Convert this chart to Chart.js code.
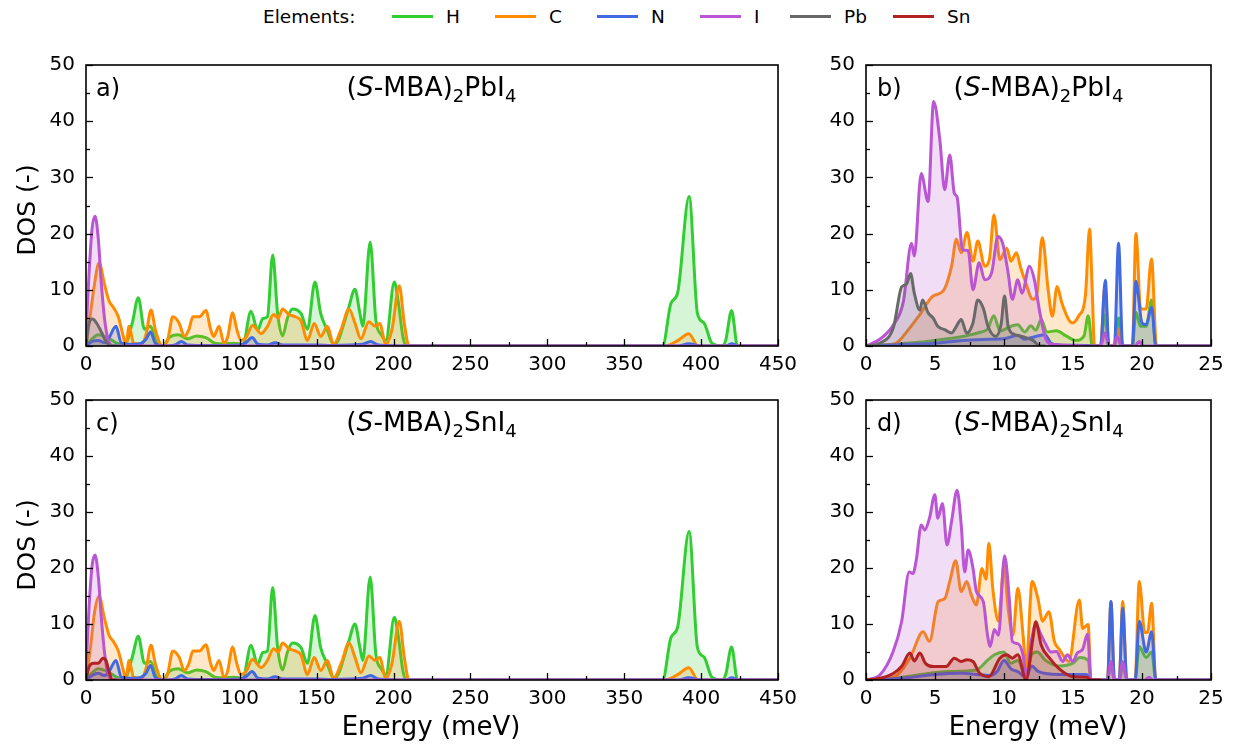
<!DOCTYPE html>
<html>
<head>
<meta charset="utf-8">
<script src="https://cdn.jsdelivr.net/npm/chart.js@4"></script>
<style>
  body { margin: 0; background: #fff; font-family: 'DejaVu Sans', sans-serif; }
  #wrap { position: relative; width: 1235px; height: 749px; overflow: hidden; }
  canvas { position: absolute; }
  .txt { position: absolute; color: #000; white-space: nowrap; line-height: 1; }
  .ttl { font-size: 26.5px; text-align: center; }
  .ttl sub { font-size: 18px; vertical-align: -6px; line-height: 0; }
  .lab { font-size: 24px; }
  .ylab { font-size: 25px; transform: translate(-50%, -50%) rotate(-90deg); }
  .xlab { font-size: 26px; transform: translateX(-50%); }
  .leg { font-size: 18.5px; }
  .sw { position: absolute; height: 3px; width: 41px; }
</style>
</head>
<body>
<div id="wrap">
  <canvas id="pa" width="767" height="331" style="left:36px;top:50px"></canvas>
  <canvas id="pb" width="420" height="331" style="left:816px;top:50px"></canvas>
  <canvas id="pc" width="767" height="330" style="left:36px;top:385px"></canvas>
  <canvas id="pd" width="420" height="330" style="left:816px;top:385px"></canvas>

  <div class="txt leg" style="left:263px;top:8px">Elements:</div>
  <div class="sw" style="left:392px;top:15px;background:#32CD32"></div><div class="txt leg" style="left:446px;top:8px">H</div>
  <div class="sw" style="left:495px;top:15px;background:#FF8C00"></div><div class="txt leg" style="left:549px;top:8px">C</div>
  <div class="sw" style="left:597px;top:15px;background:#4169E1"></div><div class="txt leg" style="left:651px;top:8px">N</div>
  <div class="sw" style="left:700px;top:15px;background:#BA55D3"></div><div class="txt leg" style="left:754px;top:8px">I</div>
  <div class="sw" style="left:790px;top:15px;background:#696969"></div><div class="txt leg" style="left:844px;top:8px">Pb</div>
  <div class="sw" style="left:893px;top:15px;background:#B22222"></div><div class="txt leg" style="left:947px;top:8px">Sn</div>

  <div class="txt lab" style="left:96px;top:76px">a)</div>
  <div class="txt lab" style="left:877px;top:76px">b)</div>
  <div class="txt lab" style="left:96px;top:411px">c)</div>
  <div class="txt lab" style="left:877px;top:411px">d)</div>

  <div class="txt ttl" style="left:86px;width:691px;top:74px">(<i>S</i>-MBA)<sub>2</sub>PbI<sub>4</sub></div>
  <div class="txt ttl" style="left:866px;width:345px;top:74px">(<i>S</i>-MBA)<sub>2</sub>PbI<sub>4</sub></div>
  <div class="txt ttl" style="left:86px;width:691px;top:409px">(<i>S</i>-MBA)<sub>2</sub>SnI<sub>4</sub></div>
  <div class="txt ttl" style="left:866px;width:345px;top:409px">(<i>S</i>-MBA)<sub>2</sub>SnI<sub>4</sub></div>

  <div class="txt ylab" style="left:26px;top:210px">DOS (-)</div>
  <div class="txt ylab" style="left:26px;top:545px">DOS (-)</div>
  <div class="txt xlab" style="left:431px;top:713px">Energy (meV)</div>
  <div class="txt xlab" style="left:1038px;top:713px">Energy (meV)</div>
</div>

<script>
// element colours
const colH = '#32CD32', colC = '#FF8C00', colN = '#4169E1', colI = '#BA55D3', colPb = '#696969', colSn = '#B22222';

// y axis ticks (DOS)
const yTicks = [0, 10, 20, 30, 40, 50];

// ---- a) (S-MBA)2PbI4, 0-450 meV ----
const aH = [[0,0],[3,1],[8,2],[14,1.5],[20,0.5],[25,0.2],[30,4],[34,8.6],[38,3],[42,3.5],[46,0.5],[50,0],[54,1.5],[60,2],[66,1.3],[72,1.8],[78,1.5],[84,0.5],[90,0.4],[96,0.5],[102,0.3],[107.3,6.2],[111.6,2.8],[115,4.9],[118,5.2],[121.4,16.2],[124.6,5.8],[127.8,1.8],[131,5],[134.3,6.6],[139.8,5.8],[144,3],[148.9,11.4],[152.6,5.8],[157,2.8],[161,0.3],[164,1],[167.7,4],[171,7],[174.9,10.1],[178,6],[180,3.5],[184.8,18.5],[188.5,4.6],[192,2],[195,1],[200.5,11.4],[203,8],[206,1.8],[208,0],[375,0],[380.4,7.6],[384.7,9.4],[392.2,26.6],[397.6,5.8],[401.9,4.1],[407,0.5],[413.5,0],[416,1],[419.8,6.3],[423.7,0],[450,0]];
const aC = [[0,0],[3,6],[5.5,11],[8.5,14.8],[12,11],[15,8],[17.5,7],[21,5.2],[24,2],[26,0.2],[28,3.5],[31,0.5],[36,0.3],[39,2],[42.3,6.4],[45,3],[48,0.5],[50,0],[53,1],[56.5,5.2],[60.5,4.1],[64,1.7],[67,3],[69.5,5.2],[73.8,5.2],[78,6.3],[81,3],[83,1.7],[86.5,3.5],[89.7,0.5],[92,1.5],[95.4,5.9],[98,3],[100.8,1],[104,1.5],[108.4,3.7],[111,3],[113.8,2.2],[118,3.5],[122,5.6],[125,5],[127.8,6.6],[132,5.6],[136,5.2],[139.8,4.5],[144,1],[148.4,4],[152.7,1.7],[157,3.5],[161,0.3],[166,3],[171,6.6],[175,4],[178.7,1.3],[184,4.3],[188,3.5],[191,4],[195,0.3],[199,3],[203.7,10.7],[207,4],[210,0],[376,0],[385,1],[392,2.2],[398,0],[450,0]];
const aN = [[0,0],[4,0.8],[8,1],[12,0.6],[15,1.5],[19.5,3.5],[23,0.5],[28,0.3],[35,0.4],[39,1.2],[42,2.5],[45,0.5],[50,0],[58,0.2],[62,0.8],[66,0.2],[80,0.1],[100,0.2],[104,0.6],[108,1.5],[112,0.3],[118,0.2],[123,0.6],[128,0.2],[150,0.2],[160,0.1],[180,0.3],[185,0.8],[190,0.2],[210,0],[385,0],[392,0.4],[400,0],[416,0],[420,0.4],[424,0],[450,0]];
const aI = [[0,2],[2,13],[4,21],[5.9,23.1],[8,19],[10,11],[12,5],[14,1.5],[16,0.2],[18,0],[450,0]];
const aPb = [[0,0],[1.5,3.5],[4.3,4.8],[7,4],[10,2.5],[13,0.8],[16,0],[20,0]];

// ---- c) (S-MBA)2SnI4, 0-450 meV ----
const cH = [[0,0],[3,1],[8,2],[14,1.5],[20,0.5],[25,0.2],[30,4],[34,7.8],[38,3],[42,3.3],[46,0.5],[50,0],[54,1.5],[60,2],[66,1.3],[72,1.8],[78,1.5],[84,0.5],[90,0.4],[96,0.5],[102,0.3],[107.3,6.2],[111.6,2.8],[115,4.9],[118,5.2],[121.4,16.5],[124.6,5.8],[127.8,1.8],[131,5],[134.3,6.6],[139.8,5.8],[144,3],[148.9,11.5],[152.6,5.8],[157,2.8],[161,0.3],[164,1],[167.7,4],[171,7],[174.9,10],[178,6],[180,3.5],[184.8,18.4],[188.5,4.6],[192,2],[195,1],[200.5,11.2],[203,8],[206,1.8],[208,0],[375,0],[380.4,7.6],[384.7,9.4],[392.2,26.5],[397.6,5.8],[401.9,4.1],[407,0.5],[413.5,0],[416,1],[419.8,5.9],[423.7,0],[450,0]];
const cC = [[0,0],[3,6],[5.5,12],[8.5,15],[12,11],[15,8],[17.5,7],[21,5.2],[24,2],[26,0.2],[28,3.5],[31,0.5],[36,0.3],[39,2],[42.3,6.2],[45,3],[48,0.5],[50,0],[53,1],[56.5,5.2],[60.5,4.1],[64,1.7],[67,3],[69.5,5.2],[73.8,5.2],[78,6.3],[81,3],[83,1.7],[86.5,3.5],[89.7,0.5],[92,1.5],[95.4,5.9],[98,3],[100.8,1],[104,1.5],[108.4,3.7],[111,3],[113.8,2.2],[118,3.5],[122,5.6],[125,5],[127.8,6.6],[132,5.6],[136,5.2],[139.8,4.5],[144,1],[148.4,4],[152.7,1.7],[157,3.5],[161,0.3],[166,3],[171,6.6],[175,4],[178.7,1.3],[184,4.3],[188,3.5],[191,4],[195,0.3],[199,3],[203.7,10.5],[207,4],[210,0],[376,0],[385,1],[392,2.2],[398,0],[450,0]];
const cN = [[0,0],[4,0.8],[8,1.2],[12,0.8],[15,1.5],[19.5,3.5],[23,0.5],[28,0.3],[35,0.4],[39,1.2],[42,2.6],[45,0.5],[50,0],[58,0.2],[62,0.8],[66,0.2],[80,0.1],[100,0.2],[104,0.6],[108,1.5],[112,0.3],[118,0.2],[123,0.6],[128,0.2],[150,0.2],[160,0.1],[180,0.3],[185,0.8],[190,0.2],[210,0],[385,0],[392,0.4],[400,0],[416,0],[420,0.4],[424,0],[450,0]];
const cI = [[0,2],[2,13],[4,20.5],[5.9,22.3],[8,18.5],[10,11],[12,5],[14,1.5],[16,0.2],[18,0],[450,0]];
const cSn = [[0,0],[2,2.4],[5,3],[8,3],[11,3.9],[13,3.5],[15,1.5],[17,0],[20,0]];

// ---- b) (S-MBA)2PbI4, 0-25 meV ----
const bH = [[0,0],[2,0.3],[4,0.7],[5,1],[6.8,1.6],[8.2,2.4],[8.8,3],[9.27,5.4],[9.7,2.7],[10.6,3.6],[11,3.8],[11.5,2.5],[11.95,3.6],[12.3,2.8],[12.7,4.7],[13.1,2.5],[13.8,2.7],[14.5,1.8],[15.2,1],[15.8,1.8],[16.1,5.4],[16.4,0],[17,0],[17.3,5.5],[17.6,0],[18,0],[18.3,5],[18.6,0],[19.3,0],[19.56,6],[19.9,3.5],[20.3,3.5],[20.7,8.2],[21,0],[25,0]];
const bC = [[0,0],[2,0.3],[3.2,3.3],[3.9,5.6],[4.86,8.9],[5.6,9.8],[6.2,14.2],[6.55,19],[6.9,16.6],[7.32,20.2],[7.75,15.1],[8.1,18.7],[8.6,14.2],[8.95,15.5],[9.27,23.3],[9.7,15.4],[10.2,17.4],[10.5,15.1],[10.9,16.6],[11.2,14],[11.5,11.8],[12.1,8.3],[12.4,9.5],[12.77,19.3],[13.2,10],[13.5,5.3],[13.85,10.6],[14.2,7.6],[14.95,4.1],[15.4,5.3],[15.9,9],[16.2,20.8],[16.4,9.4],[16.55,0],[17,0],[17.3,10.5],[17.6,0],[18,0],[18.3,3],[18.6,0],[19.3,0],[19.56,20],[19.9,6.6],[20.3,6.6],[20.69,15.5],[21.05,0],[25,0]];
const bN = [[0,0],[3,0.3],[5,0.5],[7,1],[9,1.2],[10,1.3],[11,1.9],[11.5,1.2],[12,1.5],[12.95,2],[13.4,0.5],[14,0.2],[16,0.1],[16.5,0],[17,0],[17.34,11.7],[17.6,0],[18,0],[18.3,18.3],[18.6,0],[19.3,0],[19.56,11.5],[20,4.1],[20.3,3.8],[20.7,6.9],[21,0],[25,0]];
const bI = [[0,0],[1,1.2],[1.97,3.7],[2.7,7.8],[3.3,18.3],[3.5,16],[4,30.7],[4.5,25.7],[4.9,43.5],[5.35,36.7],[5.7,27.8],[6.07,34],[6.4,27.2],[6.6,26.5],[7,17.1],[7.4,17],[7.75,10],[8.2,14.8],[8.6,11.8],[9.1,13],[9.56,19.5],[9.9,18.3],[10.3,13],[10.6,8.3],[11,11.8],[11.3,9.4],[11.85,14.2],[12.2,11.8],[12.6,5.9],[13.06,1.1],[13.5,0.3],[15,0.1],[16.5,0],[17,0],[17.3,2.3],[17.6,0],[17.9,0],[18.2,1.7],[18.5,0],[19.5,0],[19.8,0.8],[20.1,0],[25,0]];
const bPb = [[0,0],[1,0.5],[2,3.4],[2.58,10.5],[2.94,11],[3.23,12.9],[3.5,9.4],[3.9,6.4],[4.1,8.2],[4.5,5.9],[4.86,5],[5.2,3.5],[5.7,2.9],[6.2,2.3],[6.55,3.5],[6.9,4.7],[7.3,2.3],[7.75,4.1],[8.1,8.2],[8.5,6.7],[8.84,3.5],[9.4,1.7],[9.8,4],[10.04,8.9],[10.3,3.5],[10.8,2],[11.3,1.7],[12.1,1],[12.6,0],[13,0]];

// ---- d) (S-MBA)2SnI4, 0-25 meV ----
const dH = [[0,0],[2,0.3],[4,1],[6,1.5],[8,1.8],[8.8,3.5],[9.3,4.5],[10,5],[10.5,3],[11,3.5],[11.6,0.5],[12,4.5],[12.4,5],[13,3.5],[14,2.5],[15,3],[15.5,4],[16.1,3.5],[16.3,0],[17.5,0],[17.75,3],[18,0],[18.4,0],[18.6,3],[18.9,0],[19.5,0],[19.8,6],[20.3,4],[20.7,5],[21,0],[25,0]];
const dC = [[0,0],[2,0.5],[3.18,3.9],[4.14,8.6],[4.6,6.9],[5.23,14],[5.7,14.5],[6.07,17.6],[6.5,21.3],[6.9,15.8],[7.3,17.6],[7.63,15.2],[8,13.4],[8.4,19.9],[8.7,18],[8.9,24.4],[9.2,16],[9.6,10.5],[10,20.5],[10.3,12.8],[10.65,8],[11,16.4],[11.4,7.5],[11.6,2],[12.04,17.6],[12.45,14.6],[12.8,10.5],[13.25,12.2],[13.65,6.9],[14,5.5],[14.7,3.3],[15.46,14.3],[15.7,9.2],[16.1,9.9],[16.3,0],[17.5,0],[17.75,14],[18,0],[18.35,0],[18.6,14],[18.9,0],[19.5,0],[19.8,17.6],[20.2,8.5],[20.4,8.5],[20.7,13.7],[21,0],[25,0]];
const dN = [[0,0],[3,0.4],[5,1],[7,1.2],[8,1],[9,0.8],[9.5,1.5],[10,3.5],[10.5,2],[11,1.5],[11.6,0.5],[12,2.5],[12.5,1.5],[14,1],[16,1],[16.3,0],[17.5,0],[17.75,14],[18,0],[18.35,0],[18.6,12.8],[18.9,0],[19.5,0],[19.8,10.5],[20.3,5],[20.7,8.6],[21,0],[25,0]];
const dI = [[0,0],[1,0.9],[1.97,5.1],[2.58,10.4],[3.13,19.3],[3.4,19],[3.66,21.7],[4,27.7],[4.26,26.8],[4.6,28.9],[4.99,33.1],[5.2,28.9],[5.54,31.5],[5.87,24.1],[6.2,28.3],[6.6,33.9],[6.9,27.7],[7.15,19.3],[7.4,23.2],[7.75,20],[8,15.8],[8.5,14],[8.8,8.1],[9,6],[9.3,9],[9.6,8],[10.04,22.2],[10.4,14],[10.6,6.9],[11,6.5],[11.4,4.2],[11.6,0.5],[11.97,6.9],[12.3,9.9],[12.7,8],[13,6.5],[13.4,5],[13.8,5.1],[14.25,3.3],[14.6,4.5],[15,3.3],[15.3,4.8],[15.7,5.5],[16.06,8.2],[16.3,0],[17.5,0],[17.75,3.3],[18,0],[18.35,0],[18.6,3.3],[18.9,0],[20.2,0],[20.5,0.5],[20.8,0],[25,0]];
const dSn = [[0,0],[1,0.3],[2,1.2],[2.6,2.5],[3.18,4.8],[3.5,3.4],[3.9,4.8],[4.3,3],[4.86,2.4],[5.8,2.4],[6.4,3.9],[6.9,3.3],[7.3,3.6],[7.75,3.3],[8.24,1.2],[8.9,0.6],[9.7,3.9],[10.2,4.5],[10.6,3.9],[11,4.5],[11.6,0],[12.08,7.2],[12.3,10.4],[12.7,6.2],[13.3,3.9],[14,2],[15,0.6],[16,0.5],[16.3,0],[17,0]];

function fade(hex) {
  const n = parseInt(hex.slice(1), 16);
  return `rgba(${n >> 16},${(n >> 8) & 255},${n & 255},0.2)`;
}

function ds(pts, col, order) {
  return {
    data: pts.map(p => ({ x: p[0], y: p[1] })),
    borderColor: col,
    backgroundColor: fade(col),
    borderWidth: 3,
    pointRadius: 0,
    fill: 'origin',
    cubicInterpolationMode: 'monotone',
    order: order
  };
}

// frame + inward ticks like matplotlib
const frameTicks = {
  id: 'frameTicks',
  afterDraw(chart, args, opts) {
    const { ctx, chartArea: a, scales } = chart;
    ctx.save();
    ctx.strokeStyle = '#000';
    ctx.lineWidth = 1.3;
    for (let v = 0; v <= 50; v += 5) {
      const y = Math.round(scales.y.getPixelForValue(v)) + 0.5;
      const len = v % 10 === 0 ? 7 : 4;
      ctx.beginPath(); ctx.moveTo(a.left, y); ctx.lineTo(a.left + len, y); ctx.stroke();
    }
    for (let v = 0; v <= opts.max + 1e-9; v += opts.minor) {
      const x = Math.round(scales.x.getPixelForValue(v)) + 0.5;
      const major = Math.abs(v / opts.major - Math.round(v / opts.major)) < 1e-6;
      const len = major ? 7 : 4;
      ctx.beginPath(); ctx.moveTo(x, a.bottom); ctx.lineTo(x, a.bottom - len); ctx.stroke();
    }
    ctx.lineWidth = 1.6;
    ctx.strokeRect(a.left, a.top, a.right - a.left, a.bottom - a.top);
    ctx.restore();
  }
};

function panel(id, sets, xmax, step, minor) {
  new Chart(document.getElementById(id), {
    type: 'line',
    data: { datasets: sets },
    plugins: [frameTicks],
    options: {
      responsive: false,
      animation: false,
      layout: { padding: { top: 15, right: 25, left: 0, bottom: 0 } },
      plugins: { legend: { display: false }, tooltip: { enabled: false }, frameTicks: { max: xmax, major: step, minor: minor } },
      scales: {
        x: {
          type: 'linear', min: 0, max: xmax,
          grid: { display: false, drawTicks: false }, border: { display: false },
          ticks: { stepSize: step, padding: 7, color: '#000', font: { family: 'DejaVu Sans', size: 20 }, maxRotation: 0 },
          afterFit: s => { s.height = 35; s.paddingLeft = 0; s.paddingRight = 0; }
        },
        y: {
          min: 0, max: 50,
          grid: { display: false, drawTicks: false }, border: { display: false },
          afterBuildTicks: s => { s.ticks = yTicks.map(v => ({ value: v })); },
          ticks: { padding: 11, color: '#000', font: { family: 'DejaVu Sans', size: 20 } },
          afterFit: s => { s.width = 50; s.paddingTop = 0; s.paddingBottom = 0; }
        }
      }
    }
  });
}

panel('pa', [ds(aH, colH, 6), ds(aC, colC, 5), ds(aN, colN, 4), ds(aI, colI, 3), ds(aPb, colPb, 2)], 450, 50, 25);
panel('pb', [ds(bH, colH, 6), ds(bC, colC, 5), ds(bN, colN, 4), ds(bI, colI, 3), ds(bPb, colPb, 2)], 25, 5, 2.5);
panel('pc', [ds(cH, colH, 6), ds(cC, colC, 5), ds(cN, colN, 4), ds(cI, colI, 3), ds(cSn, colSn, 1)], 450, 50, 25);
panel('pd', [ds(dH, colH, 6), ds(dC, colC, 5), ds(dN, colN, 4), ds(dI, colI, 3), ds(dSn, colSn, 1)], 25, 5, 2.5);
</script>
</body>
</html>
